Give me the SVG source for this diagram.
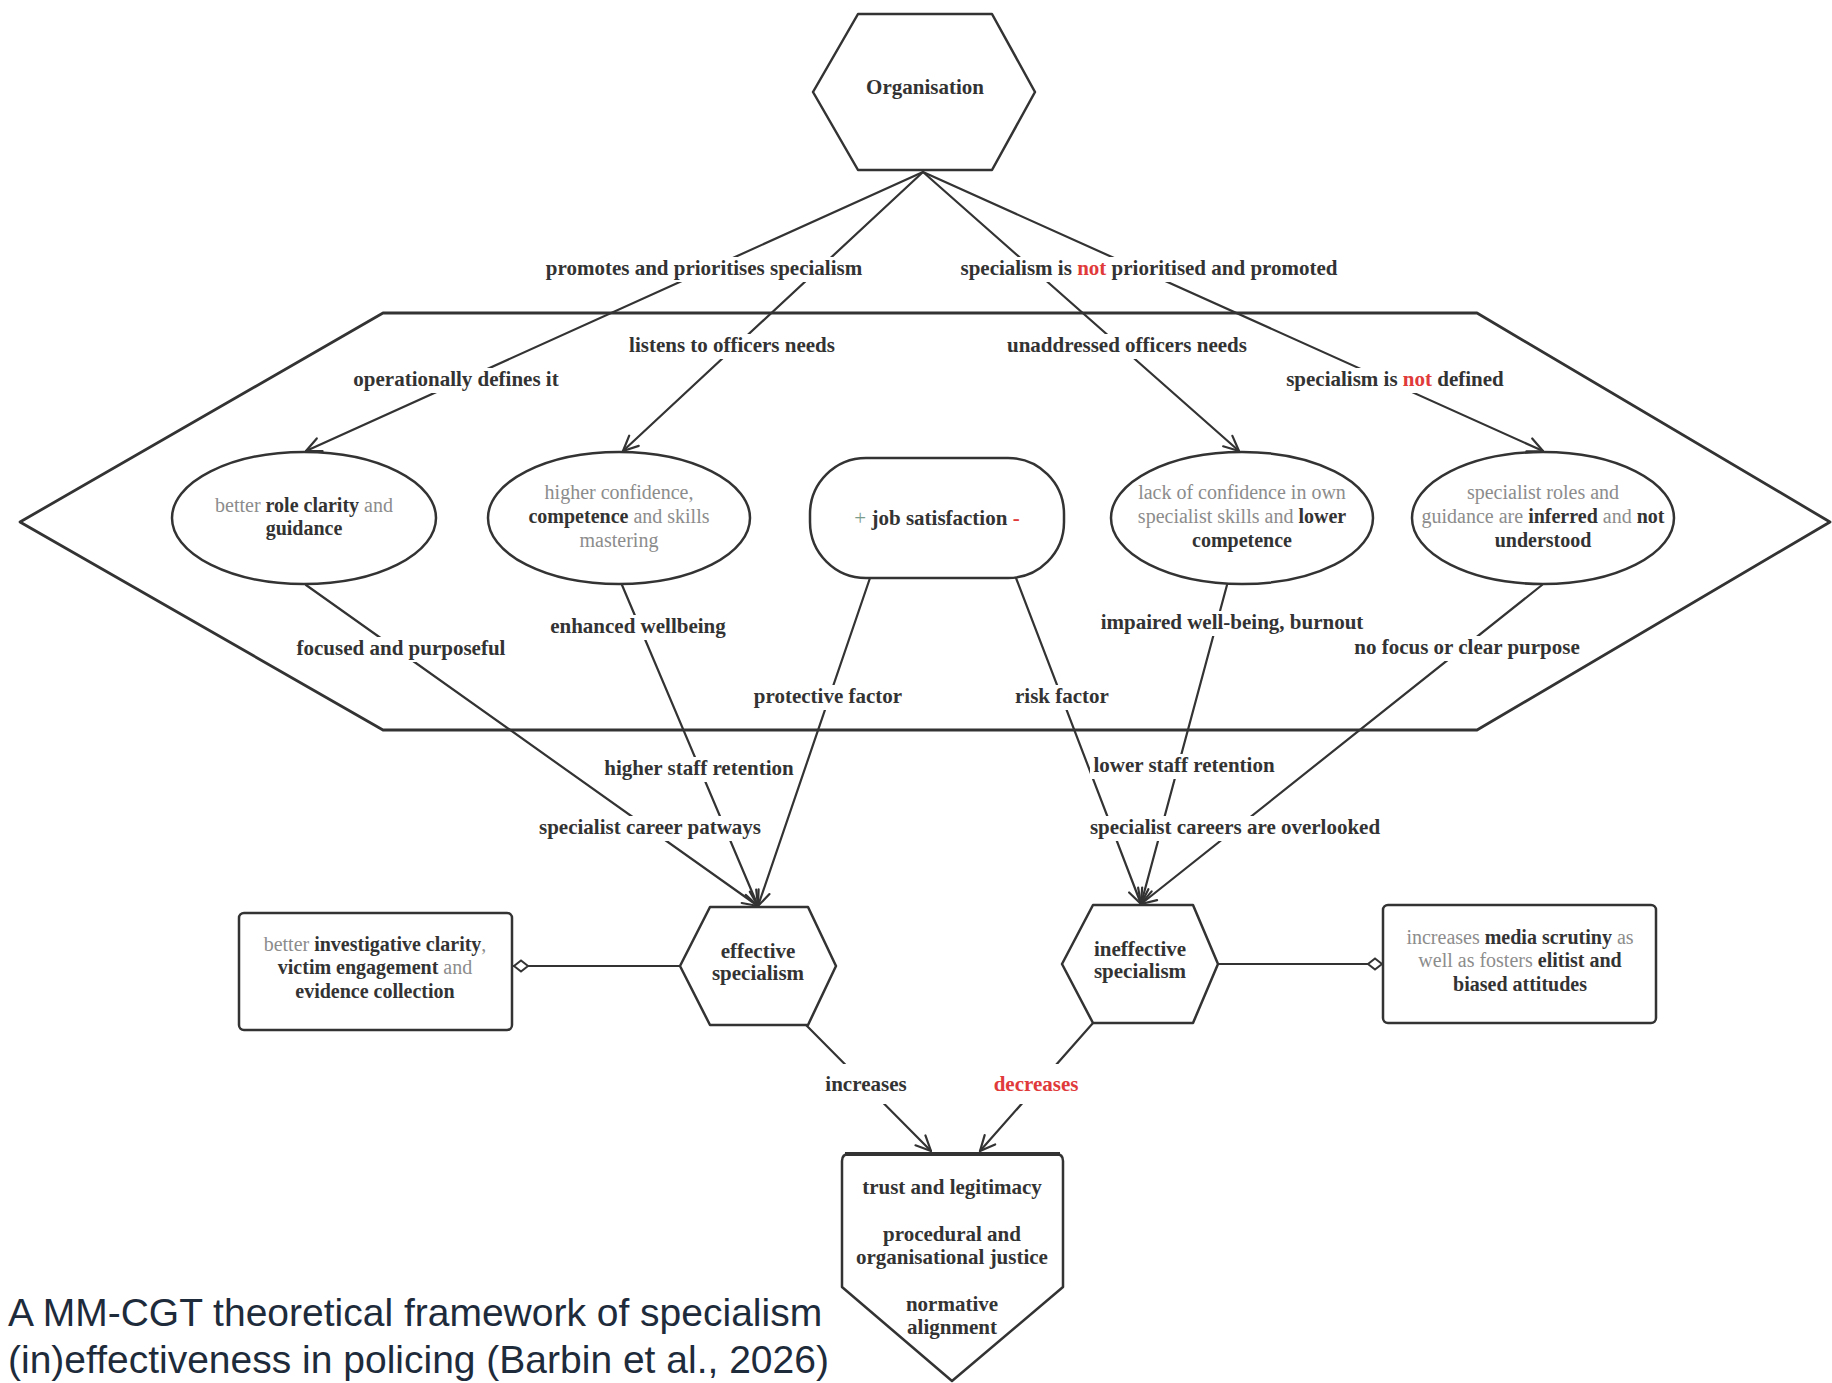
<svg xmlns="http://www.w3.org/2000/svg" width="1832" height="1383" viewBox="0 0 1832 1383">
<defs>
<style>
.ln{fill:none;stroke:#333;stroke-width:2.2;stroke-linecap:round}
.shape{fill:#fff;stroke:#333;stroke-width:2.5;stroke-linejoin:round}
.lbg{fill:#fff}
.lb{font-family:"Liberation Serif","DejaVu Serif",serif;font-size:21px;font-weight:bold;fill:#333;text-anchor:middle}
.nt{font-family:"Liberation Serif","DejaVu Serif",serif;font-size:20px;fill:#8c8c8c;text-anchor:middle}
.b{font-weight:bold;fill:#333}
.red{fill:#e03a3a}
.cap{font-family:"Liberation Sans",Arial,sans-serif;font-size:39px;fill:#1e2b3b}
</style>
<marker id="arr" viewBox="-18 -10 20 20" markerWidth="20" markerHeight="20" refX="0" refY="0" orient="auto" markerUnits="userSpaceOnUse">
<path d="M-15,-7 L0,0 L-15,7" fill="none" stroke="#333" stroke-width="2.2" stroke-linecap="round" stroke-linejoin="round"/>
</marker>
<marker id="dia" viewBox="-17 -8 19 16" markerWidth="19" markerHeight="16" refX="0" refY="0" orient="auto" markerUnits="userSpaceOnUse">
<path d="M0,0 L-7,-5.5 L-14,0 L-7,5.5 Z" fill="#fff" stroke="#333" stroke-width="2"/>
</marker>
</defs>
<rect width="1832" height="1383" fill="#fff"/>

<g id="context-hexagon">
<polygon points="20,522 383,313 1477,313 1830,522 1477,730 383,730" fill="none" stroke="#333" stroke-width="2.8" stroke-linejoin="round"/>
</g>

<g id="connectors">
<line class="ln" x1="923" y1="172" x2="306" y2="451" marker-end="url(#arr)"/>
<line class="ln" x1="923" y1="172" x2="623" y2="451" marker-end="url(#arr)"/>
<line class="ln" x1="923" y1="172" x2="1239" y2="451" marker-end="url(#arr)"/>
<line class="ln" x1="923" y1="172" x2="1543" y2="451" marker-end="url(#arr)"/>
<line class="ln" x1="306" y1="585" x2="758" y2="906" marker-end="url(#arr)"/>
<line class="ln" x1="622" y1="585" x2="758" y2="906" marker-end="url(#arr)"/>
<line class="ln" x1="870" y1="578" x2="758" y2="906" marker-end="url(#arr)"/>
<line class="ln" x1="1016" y1="578" x2="1141" y2="904" marker-end="url(#arr)"/>
<line class="ln" x1="1227" y1="585" x2="1141" y2="904" marker-end="url(#arr)"/>
<line class="ln" x1="1542" y1="585" x2="1141" y2="904" marker-end="url(#arr)"/>
<line class="ln" x1="680" y1="966" x2="514" y2="966" marker-end="url(#dia)"/>
<line class="ln" x1="1218" y1="964" x2="1382" y2="964" marker-end="url(#dia)"/>
<line class="ln" x1="806" y1="1025" x2="931" y2="1151" marker-end="url(#arr)"/>
<line class="ln" x1="1093" y1="1023" x2="980" y2="1151" marker-end="url(#arr)"/>

<g id="label-bg">
<rect class="lbg" x="539" y="257" width="330" height="25"/>
<rect class="lbg" x="954" y="257" width="390" height="25"/>
<rect class="lbg" x="625" y="334" width="214" height="25"/>
<rect class="lbg" x="1003" y="334" width="248" height="25"/>
<rect class="lbg" x="350" y="368" width="212" height="25"/>
<rect class="lbg" x="1281" y="368" width="228" height="25"/>
<rect class="lbg" x="293" y="637" width="217" height="25"/>
<rect class="lbg" x="545" y="615" width="186" height="25"/>
<rect class="lbg" x="750" y="685" width="157" height="25"/>
<rect class="lbg" x="1013" y="685" width="99" height="25"/>
<rect class="lbg" x="1094" y="611" width="276" height="25"/>
<rect class="lbg" x="1350" y="636" width="235" height="25"/>
<rect class="lbg" x="601" y="757" width="196" height="25"/>
<rect class="lbg" x="1090" y="754" width="189" height="25"/>
<rect class="lbg" x="536" y="816" width="227" height="25"/>
<rect class="lbg" x="1087" y="816" width="297" height="25"/>
<rect class="lbg" x="815" y="1064" width="102" height="40"/>
<rect class="lbg" x="988" y="1064" width="96" height="40"/>
</g>
<g id="labels">
<text class="lb" x="704" y="275">promotes and prioritises specialism</text>
<text class="lb" x="1149" y="275">specialism is <tspan class="red">not</tspan> prioritised and promoted</text>
<text class="lb" x="732" y="352">listens to officers needs</text>
<text class="lb" x="1127" y="352">unaddressed officers needs</text>
<text class="lb" x="456" y="386">operationally defines it</text>
<text class="lb" x="1395" y="386">specialism is <tspan class="red">not</tspan> defined</text>
<text class="lb" x="401" y="655">focused and purposeful</text>
<text class="lb" x="638" y="633">enhanced wellbeing</text>
<text class="lb" x="828" y="703">protective factor</text>
<text class="lb" x="1062" y="703">risk factor</text>
<text class="lb" x="1232" y="629">impaired well-being, burnout</text>
<text class="lb" x="1467" y="654">no focus or clear purpose</text>
<text class="lb" x="699" y="775">higher staff retention</text>
<text class="lb" x="1184" y="772">lower staff retention</text>
<text class="lb" x="650" y="834">specialist career patways</text>
<text class="lb" x="1235" y="834">specialist careers are overlooked</text>
<text class="lb" x="866" y="1091">increases</text>
<text class="lb red" x="1036" y="1091">decreases</text>
</g>
</g>

<g id="organisation">
<polygon class="shape" points="858,14 992,14 1035,92 992,170 858,170 813,92"/>
<text class="lb" x="925" y="94">Organisation</text>
</g>

<g id="role-clarity">
<ellipse class="shape" cx="304" cy="518" rx="132" ry="66"/>
<text class="nt" x="304" y="512">better <tspan class="b">role clarity</tspan> and</text>
<text class="nt" x="304" y="535"><tspan class="b">guidance</tspan></text>
</g>

<g id="higher-confidence">
<ellipse class="shape" cx="619" cy="518" rx="131" ry="66"/>
<text class="nt" x="619" y="499">higher confidence,</text>
<text class="nt" x="619" y="523"><tspan class="b">competence</tspan> and skills</text>
<text class="nt" x="619" y="547">mastering</text>
</g>

<g id="job-satisfaction">
<rect class="shape" x="810" y="458" width="254" height="120" rx="56" ry="56"/>
<text class="lb" x="937" y="525"><tspan fill="#7a9c8c" font-weight="normal">+</tspan> job satisfaction <tspan class="red">-</tspan></text>
</g>

<g id="lack-confidence">
<ellipse class="shape" cx="1242" cy="518" rx="131" ry="66"/>
<text class="nt" x="1242" y="499">lack of confidence in own</text>
<text class="nt" x="1242" y="523">specialist skills and <tspan class="b">lower</tspan></text>
<text class="nt" x="1242" y="547"><tspan class="b">competence</tspan></text>
</g>

<g id="roles-inferred">
<ellipse class="shape" cx="1543" cy="518" rx="131" ry="66"/>
<text class="nt" x="1543" y="499">specialist roles and</text>
<text class="nt" x="1543" y="523">guidance are <tspan class="b">inferred</tspan> and <tspan class="b">not</tspan></text>
<text class="nt" x="1543" y="547"><tspan class="b">understood</tspan></text>
</g>

<g id="effective-specialism">
<polygon class="shape" points="710,907 808,907 836,966 808,1025 710,1025 680,966"/>
<text class="lb" x="758" y="958">effective</text>
<text class="lb" x="758" y="980">specialism</text>
</g>

<g id="ineffective-specialism">
<polygon class="shape" points="1093,905 1193,905 1218,964 1193,1023 1093,1023 1062,964"/>
<text class="lb" x="1140" y="956">ineffective</text>
<text class="lb" x="1140" y="978">specialism</text>
</g>

<g id="investigative-clarity">
<rect class="shape" x="239" y="913" width="273" height="117" rx="5" ry="5"/>
<text class="nt" x="375" y="951">better <tspan class="b">investigative clarity</tspan>,</text>
<text class="nt" x="375" y="974"><tspan class="b">victim engagement</tspan> and</text>
<text class="nt" x="375" y="998"><tspan class="b">evidence collection</tspan></text>
</g>

<g id="media-scrutiny">
<rect class="shape" x="1383" y="905" width="273" height="118" rx="5" ry="5"/>
<text class="nt" x="1520" y="944">increases <tspan class="b">media scrutiny</tspan> as</text>
<text class="nt" x="1520" y="967">well as fosters <tspan class="b">elitist and</tspan></text>
<text class="nt" x="1520" y="991"><tspan class="b">biased attitudes</tspan></text>
</g>

<g id="trust-legitimacy">
<path class="shape" d="M842,1161 Q842,1154 849,1154 L1056,1154 Q1063,1154 1063,1161 L1063,1287 L952,1381 L842,1287 Z"/>
<line x1="845" y1="1154" x2="1060" y2="1154" stroke="#333" stroke-width="4"/>
<text class="lb" x="952" y="1194">trust and legitimacy</text>
<text class="lb" x="952" y="1241">procedural and</text>
<text class="lb" x="952" y="1264">organisational justice</text>
<text class="lb" x="952" y="1311">normative</text>
<text class="lb" x="952" y="1334">alignment</text>
</g>

<g id="caption">
<text class="cap" x="8" y="1326">A MM-CGT theoretical framework of specialism</text>
<text class="cap" x="8" y="1373">(in)effectiveness in policing (Barbin et al., 2026)</text>
</g>
</svg>
